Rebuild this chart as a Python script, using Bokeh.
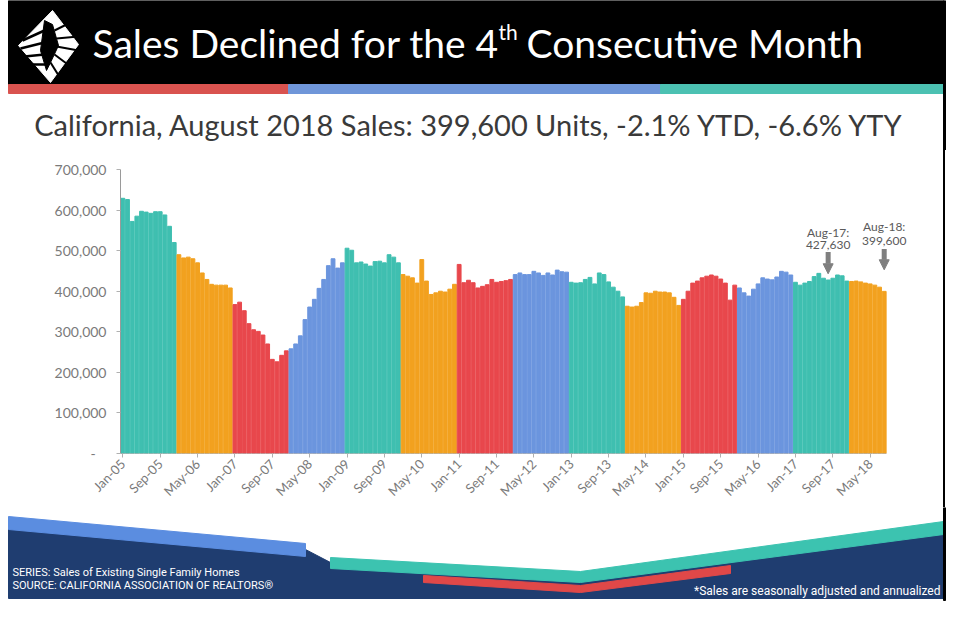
import math
from bokeh.plotting import figure
from bokeh.layouts import column, row
from bokeh.models import Range1d, FixedTicker, Label, Arrow, NormalHead, ColumnDataSource, Spacer
from bokeh.embed import file_html
from bokeh.resources import INLINE
from bokeh.core.properties import value

# ---------------- data ----------------
years = list(range(2005, 2019))
sales_2005 = [629000, 626000, 572000, 585000, 597000, 595000, 592000, 596000, 596000, 588000, 560000, 520000]
sales_2006 = [490000, 482000, 484000, 480000, 470000, 445000, 429000, 417000, 415000, 415000, 415000, 408000]
sales_2007 = [367000, 373000, 352000, 320000, 305000, 301000, 292000, 270000, 232000, 226000, 242000, 253000]
sales_2008 = [258000, 270000, 290000, 330000, 361000, 380000, 407000, 429000, 463000, 480000, 457000, 470000]
sales_2009 = [506000, 501000, 470000, 472000, 467000, 462000, 473000, 474000, 470000, 490000, 484000, 470000]
sales_2010 = [441000, 437000, 433000, 420000, 478000, 425000, 392000, 396000, 400000, 398000, 405000, 417000]
sales_2011 = [466000, 421000, 427000, 421000, 408000, 412000, 416000, 429000, 422000, 424000, 426000, 429000]
sales_2012 = [441000, 445000, 441000, 441000, 449000, 445000, 439000, 445000, 440000, 452000, 448000, 447000]
sales_2013 = [422000, 420000, 421000, 429000, 434000, 418000, 445000, 441000, 423000, 410000, 400000, 386000]
sales_2014 = [363000, 361000, 363000, 372000, 396000, 395000, 400000, 398000, 398000, 396000, 385000, 365000]
sales_2015 = [380000, 400000, 420000, 425000, 433000, 437000, 440000, 437000, 430000, 420000, 378000, 415000]
sales_2016 = [408000, 396000, 388000, 405000, 418000, 433000, 430000, 428000, 435000, 449000, 447000, 440000]
sales_2017 = [422000, 415000, 420000, 424000, 436000, 444000, 432000, 427630, 432000, 440000, 438000, 425000]
sales_2018 = [424000, 425000, 423000, 420000, 418000, 415000, 410000, 399600]
sales_by_year = [sales_2005, sales_2006, sales_2007, sales_2008, sales_2009, sales_2010, sales_2011,
                 sales_2012, sales_2013, sales_2014, sales_2015, sales_2016, sales_2017, sales_2018]

year_colors = ["#3fbfb0", "#f2a11f", "#e8474c", "#6b95de"]  # teal, orange, red, blue cycle

tick_labels = ["Jan-05", "Sep-05", "May-06", "Jan-07", "Sep-07", "May-08", "Jan-09", "Sep-09",
               "May-10", "Jan-11", "Sep-11", "May-12", "Jan-13", "Sep-13", "May-14", "Jan-15",
               "Sep-15", "May-16", "Jan-17", "Sep-17", "May-18"]
y_ticks = [0, 100000, 200000, 300000, 400000, 500000, 600000, 700000]
y_tick_labels = ["-\u00a0\u00a0\u00a0", "100,000", "200,000", "300,000", "400,000", "500,000", "600,000", "700,000"]

title_text = ["Sales Declined for the 4", "th", "Consecutive Month"]
subtitle_text = "California, August 2018 Sales: 399,600 Units, -2.1% YTD, -6.6% YTY"
note_series = "SERIES: Sales of Existing Single Family Homes"
note_source = "SOURCE: CALIFORNIA ASSOCIATION OF REALTORS\u00ae"
note_adjusted = "*Sales are seasonally adjusted and annualized"
callouts = [("Aug-17:", "427,630", 151), ("Aug-18:", "399,600", 163)]

# ---------------- build table ----------------
xs, tops, cols = [], [], []
k = 0
for yi, vals in enumerate(sales_by_year):
    for v in vals:
        xs.append(k)
        tops.append(v)
        cols.append(year_colors[yi % 4])
        k += 1
n_months = len(xs)
src = ColumnDataSource(dict(x=xs, top=tops, color=cols))
tick_idx = list(range(0, n_months, 8))[:len(tick_labels)]

FONT = "Lato"

def deco_fig(w, h, x0, x1, y0, y1):
    f = figure(width=w, height=h, x_range=Range1d(x0, x1), y_range=Range1d(y1, y0),
               x_axis_type=None, y_axis_type=None, toolbar_location=None,
               output_backend="svg", min_border=0, outline_line_color=None)
    f.grid.visible = False
    return f

# ---------------- header (page y 0..150) ----------------
hdr = deco_fig(960, 150, 0, 960, 0, 150)
hdr.quad(left=8, right=943, top=0, bottom=84, color="black")
hdr.quad(left=[8, 288, 660], right=[288, 660, 943], top=[84, 84, 84], bottom=[93, 93, 93],
         color=["#d9534f", "#6f96d9", "#4cc1b2"])
hdr.quad(left=943, right=945, top=0, bottom=150, color="black")
# logo (simplified white fan/diamond)
hdr.patch(x=[52, 78, 50, 18], y=[10, 44, 82, 45], color="white")
hdr.patch(x=[44, 52, 58, 50, 46, 40], y=[20, 24, 45, 62, 70, 50], color="black")
for (xa, ya, xb, yb) in [(54, 30, 70, 22), (56, 38, 78, 36), (56, 46, 78, 50), (54, 54, 70, 66), (50, 62, 60, 78)]:
    hdr.line(x=[xa, xb], y=[ya, yb], line_color="black", line_width=2)
for (xa, ya, xb, yb) in [(22, 40, 44, 30), (20, 48, 44, 42), (24, 56, 44, 54), (30, 64, 46, 64)]:
    hdr.line(x=[xa, xb], y=[ya, yb], line_color="black", line_width=2.5)

hdr.text(x=[92], y=[42], text=[title_text[0]], text_font=value(FONT), text_font_size="39px",
         text_color="white", text_baseline="middle", text_align="left")
hdr.text(x=[498], y=[31], text=[title_text[1]], text_font=value(FONT), text_font_size="21px",
         text_color="white", text_baseline="middle", text_align="left")
hdr.text(x=[526], y=[42], text=[title_text[2]], text_font=value(FONT), text_font_size="39px",
         text_color="white", text_baseline="middle", text_align="left")
hdr.text(x=[469], y=[124], text=[subtitle_text], text_font=value(FONT), text_font_size="29px",
         text_color="#3a3a3a", text_baseline="middle", text_align="center")

# ---------------- chart (page y 150..507) ----------------
x_end = n_months - 0.5 + 6.2
p = figure(width=943, height=357, x_range=Range1d(-0.5, x_end), y_range=Range1d(0, 700000),
           toolbar_location=None, output_backend="svg",
           min_border_left=120, min_border_right=28, min_border_top=19, min_border_bottom=52,
           outline_line_color=None)
p.vbar(x="x", top="top", width=0.82, color="color", source=src)
p.segment(x0=[-0.5], y0=[0], x1=[n_months - 0.5], y1=[0], line_color="#9a9a9a", line_width=1)
p.grid.visible = False

p.xaxis.ticker = FixedTicker(ticks=tick_idx)
p.xaxis.major_label_overrides = {i: lab for i, lab in zip(tick_idx, tick_labels)}
p.xaxis.major_label_orientation = math.pi / 4
p.yaxis.ticker = FixedTicker(ticks=y_ticks)
p.yaxis.major_label_overrides = {v: lab for v, lab in zip(y_ticks, y_tick_labels)}
for ax in (p.xaxis, p.yaxis):
    ax.axis_line_color = "#9a9a9a"
    ax.major_tick_line_color = "#b0b0b0"
    ax.major_tick_out = 4
    ax.major_tick_in = 0
    ax.minor_tick_line_color = None
    ax.major_label_text_font = FONT
    ax.major_label_text_font_size = "13px"
    ax.major_label_text_color = "#7a7a7a"
p.yaxis.major_label_text_font_size = "14px"
p.xaxis.axis_line_color = None
p.yaxis.major_label_standoff = 10
p.xaxis.major_label_standoff = 4

px_per_unit = 286 / 700000.0
def y_at(page_y):
    return (455 - page_y) / px_per_unit

label_rows = [(232, 245, 252, 274), (226, 241, 249, 270)]
for (t1, t2, xi), (y1, y2, a0, a1) in zip(callouts, label_rows):
    p.add_layout(Label(x=xi, y=y_at(y1), text=t1, text_align="center", text_baseline="middle",
                       text_font=FONT, text_font_size="12px", text_color="#5a5a5a"))
    p.add_layout(Label(x=xi, y=y_at(y2), text=t2, text_align="center", text_baseline="middle",
                       text_font=FONT, text_font_size="12px", text_color="#5a5a5a"))
    p.add_layout(Arrow(x_start=xi, y_start=y_at(a0), x_end=xi, y_end=y_at(a1),
                       line_color="#7f7f7f", line_width=5,
                       end=NormalHead(size=10, fill_color="#7f7f7f", line_color="#7f7f7f")))

side_line = Spacer(width=2, height=357, styles={"background-color": "#000000"})

# ---------------- footer (page y 507..621) ----------------
ftr = deco_fig(960, 114, 0, 960, 507, 621)
ftr.patch(x=[8, 305, 330, 580, 943, 943, 8], y=[522, 549, 562, 576, 528, 598, 598], color="#1f3d70")
ftr.patch(x=[8, 305, 305, 8], y=[516, 543, 556, 529], color="#5b8de0")
ftr.patch(x=[330, 580, 943, 943, 580, 330], y=[557, 571, 521, 534, 582, 568], color="#3cc3b0")
ftr.patch(x=[423, 580, 730, 730, 580, 423], y=[575, 585, 565, 573, 592, 582], color="#e04848")
ftr.quad(left=943, right=945, top=507, bottom=600, color="black")
ftr.text(x=[12], y=[572], text=[note_series], text_font=value("Roboto"), text_font_size="11px",
         text_color="white", text_baseline="middle", text_align="left")
ftr.text(x=[12], y=[585], text=[note_source], text_font=value("Roboto"), text_font_size="11px",
         text_color="white", text_baseline="middle", text_align="left")
ftr.text(x=[940], y=[590], text=[note_adjusted], text_font=value("Roboto"), text_font_size="12px",
         text_color="white", text_baseline="middle", text_align="right")

layout = column(hdr, row(p, side_line, spacing=0), ftr, spacing=0)
open("out.html", "w").write(file_html(layout, INLINE))
